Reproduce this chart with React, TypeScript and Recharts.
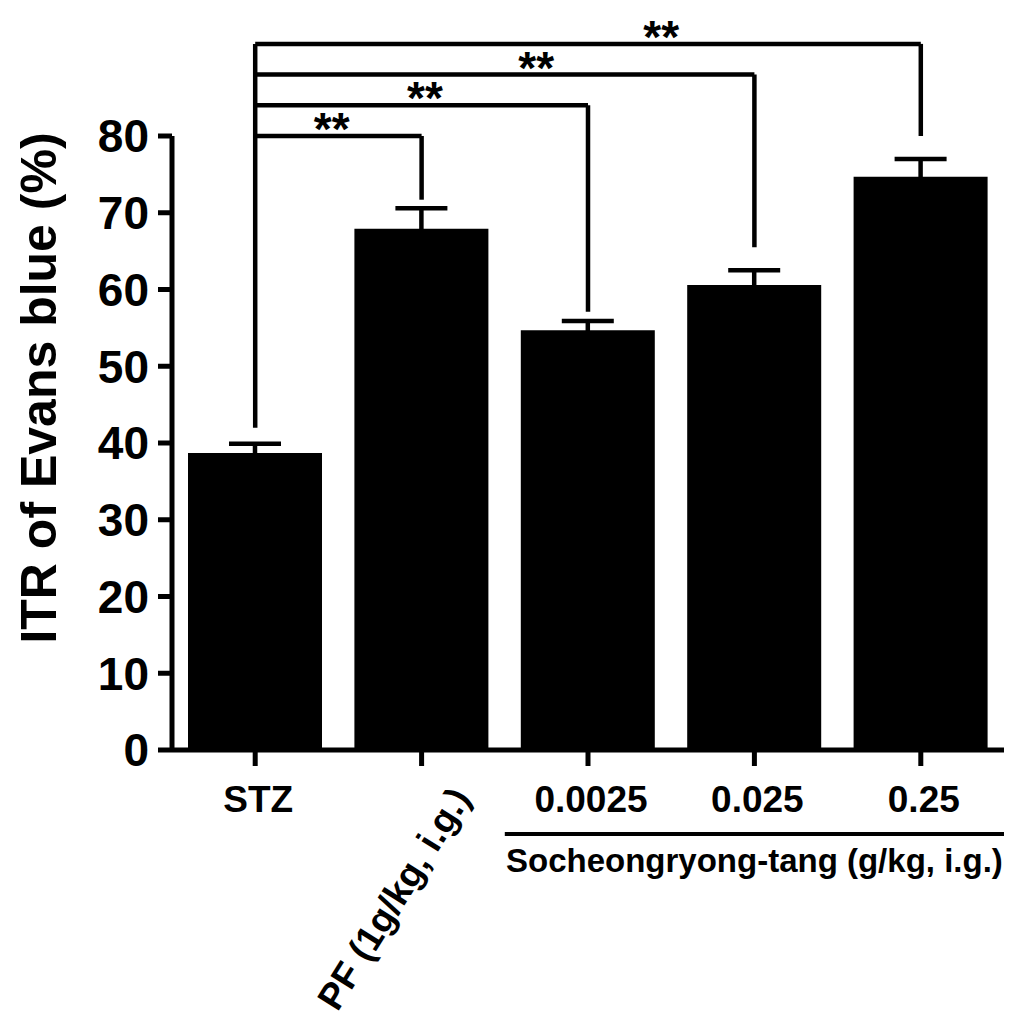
import React from 'react';
import {
  BarChart,
  Bar,
  XAxis,
  YAxis,
  ErrorBar,
  ReferenceLine,
  ReferenceArea,
} from 'recharts';

const categories = ['STZ', 'PF (1g/kg, i.g.)', '0.0025', '0.025', '0.25'];
const means = [38.7, 67.9, 54.7, 60.6, 74.7];
const sems = [1.2, 2.7, 1.2, 1.9, 2.3];
const yTicks = [0, 10, 20, 30, 40, 50, 60, 70, 80];

// significance brackets, all measured from STZ
const bracketTargets = ['PF (1g/kg, i.g.)', '0.0025', '0.025', '0.25'];
const bracketLevels = [80, 84, 88, 92];
const bracketEnds = [71.7, 57.1, 65.5, 80];
const bracketBase = 42;
const bracketMarks = ['**', '**', '**', '**'];

const groupCategories = ['0.0025', '0.25'];
const groupLabel = 'Socheongryong-tang (g/kg, i.g.)';
const yLabel = 'ITR of Evans blue (%)';

const FONT = '"Liberation Sans", Arial, sans-serif';
const starFrac = [0.46, 0.51, 0.563, 0.61];

const data = categories.map((name, i) => ({ name, value: means[i], err: sems[i] }));

const XTick = (props: any) => {
  const { x, y, payload } = props;
  if (payload.value === 'PF (1g/kg, i.g.)') {
    const ax = x + 50;
    const ay = y + 30;
    return (
      <text
        x={ax}
        y={ay}
        transform={`rotate(-58, ${ax}, ${ay})`}
        textAnchor="end"
        fontFamily={FONT}
        fontWeight="bold"
        fontSize={37}
        fill="#000"
      >
        {payload.value}
      </text>
    );
  }
  return (
    <text x={x + 3} y={y + 44} textAnchor="middle" fontFamily={FONT} fontWeight="bold" fontSize={37} fill="#000">
      {payload.value}
    </text>
  );
};

const Stars = (props: any) => {
  const { viewBox, frac, text } = props;
  if (!viewBox) return null;
  return (
    <text
      x={viewBox.x + viewBox.width * frac}
      y={viewBox.y + 9}
      textAnchor="middle"
      fontFamily={FONT}
      fontWeight="bold"
      fontSize={46}
      fill="#000"
    >
      {text}
    </text>
  );
};

const renderYLabel = () => (
  <text
    x={56}
    y={388}
    transform="rotate(-90, 56, 388)"
    textAnchor="middle"
    fontFamily={FONT}
    fontWeight="bold"
    fontSize={50}
    fill="#000"
  >
    {yLabel}
  </text>
);

export default function App() {
  const line = { stroke: '#000', strokeWidth: 4.5, ifOverflow: 'visible' as const };
  return (
    <div style={{ position: 'absolute', left: 0, top: 0, width: 1024, height: 1033, background: '#fff' }}>
      <BarChart
        width={1024}
        height={1033}
        data={data}
        margin={{ top: 136, right: 20, left: 0, bottom: 0 }}
      >
        <XAxis
          dataKey="name"
          height={283}
          interval={0}
          tickSize={16}
          axisLine={{ stroke: '#000', strokeWidth: 5 }}
          tickLine={{ stroke: '#000', strokeWidth: 5 }}
          tick={<XTick />}
        />
        <YAxis
          width={172}
          domain={[0, 80]}
          ticks={yTicks}
          tickSize={14}
          tickMargin={9}
          axisLine={{ stroke: '#000', strokeWidth: 5 }}
          tickLine={{ stroke: '#000', strokeWidth: 5 }}
          tick={{ fill: '#000', fontSize: 46, fontWeight: 'bold', fontFamily: FONT }}
          label={{ value: yLabel, content: renderYLabel }}
        />
        <Bar dataKey="value" fill="#000" barSize={134} isAnimationActive={false}>
          <ErrorBar dataKey="err" width={26} stroke="#000" strokeWidth={4.5} />
        </Bar>
        <ReferenceLine
          {...line}
          segment={[
            { x: categories[0], y: bracketBase },
            { x: categories[0], y: Math.max(...bracketLevels) },
          ]}
        />
        {bracketTargets.map((t, i) => (
          <ReferenceLine
            key={`h-${t}`}
            {...line}
            segment={[
              { x: categories[0], y: bracketLevels[i] },
              { x: t, y: bracketLevels[i] },
            ]}
            label={<Stars frac={starFrac[i]} text={bracketMarks[i]} />}
          />
        ))}
        {bracketTargets.map((t, i) => (
          <ReferenceLine
            key={`v-${t}`}
            {...line}
            segment={[
              { x: t, y: bracketLevels[i] },
              { x: t, y: bracketEnds[i] },
            ]}
          />
        ))}
        <ReferenceArea
          x1={groupCategories[0]}
          x2={groupCategories[1]}
          y1={-10.68}
          y2={-11.2}
          fill="#000"
          fillOpacity={1}
          stroke="none"
          ifOverflow="visible"
          label={{
            value: groupLabel,
            position: 'bottom',
            offset: 13,
            fill: '#000',
            fontSize: 33,
            fontWeight: 'bold',
            fontFamily: FONT,
          }}
        />
      </BarChart>
    </div>
  );
}
